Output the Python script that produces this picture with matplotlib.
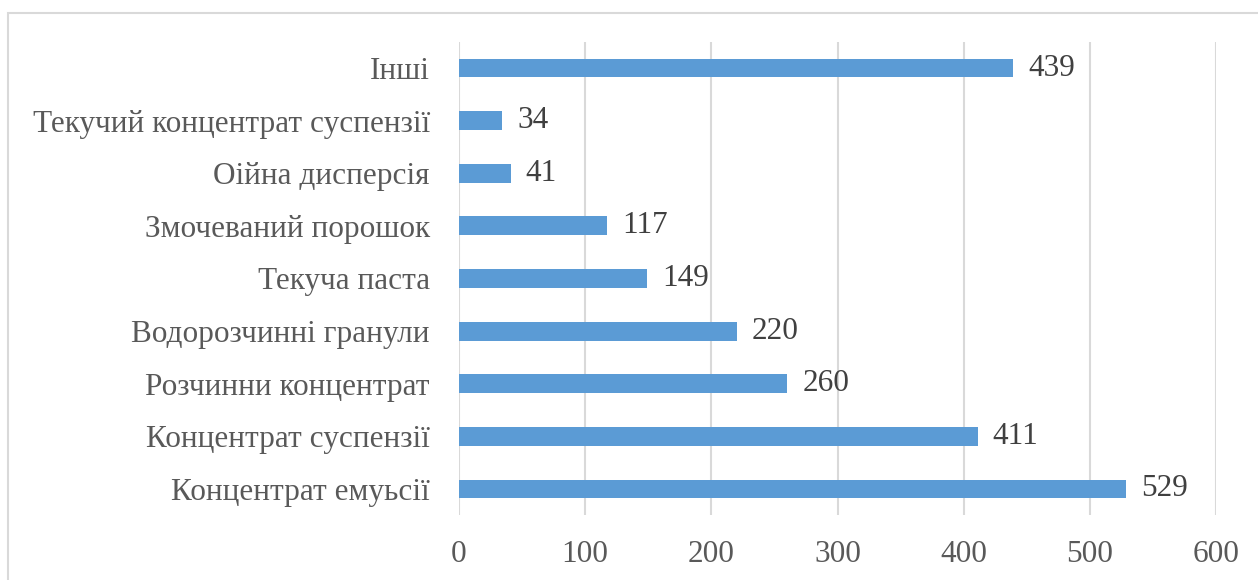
import matplotlib.pyplot as plt
from matplotlib.patches import Rectangle

categories = ["Концентрат емуьсії", "Концентрат суспензії", "Розчинни концентрат",
              "Водорозчинні гранули", "Текуча паста", "Змочеваний порошок",
              "Оійна дисперсія", "Текучий концентрат суспензії", "Інші"]
values = [529, 411, 260, 220, 149, 117, 41, 34, 439]
xticks = [0, 100, 200, 300, 400, 500, 600]

plt.rcParams['font.family'] = ['Liberation Serif', 'DejaVu Serif']

fig = plt.figure(figsize=(12.58, 5.8), dpi=100)
ax = fig.add_axes([459 / 1258, 1 - 515.3 / 580, (1216 - 459) / 1258, (515.3 - 41.7) / 580])

# рамка диаграммы
fig.patches.append(Rectangle((8 / 1258, -0.1), 1.2, 1 - 13 / 580 + 0.1, transform=fig.transFigure,
                             fill=False, edgecolor='#d9d9d9', linewidth=1.5))

y = range(len(categories))
ax.barh(y, values, height=0.36, color='#5b9bd5', zorder=3)
for i, v in zip(y, values):
    ax.text(v + 12, i, str(v), va='center', ha='left', fontsize=22.5, color='#404040')

ax.set_xlim(0, 600)
ax.set_ylim(-0.5, len(categories) - 0.5)
ax.set_xticks(xticks)
ax.set_yticks(list(y))
ax.set_yticklabels(categories)
ax.tick_params(axis='x', length=0, labelsize=22.5, labelcolor='#595959', pad=18)
ax.tick_params(axis='y', length=0, labelsize=22.5, labelcolor='#595959', pad=21)
ax.grid(axis='x', color='#d9d9d9', linewidth=1.5, zorder=0)
for s in ax.spines.values():
    s.set_visible(False)

fig.savefig('out.png')
